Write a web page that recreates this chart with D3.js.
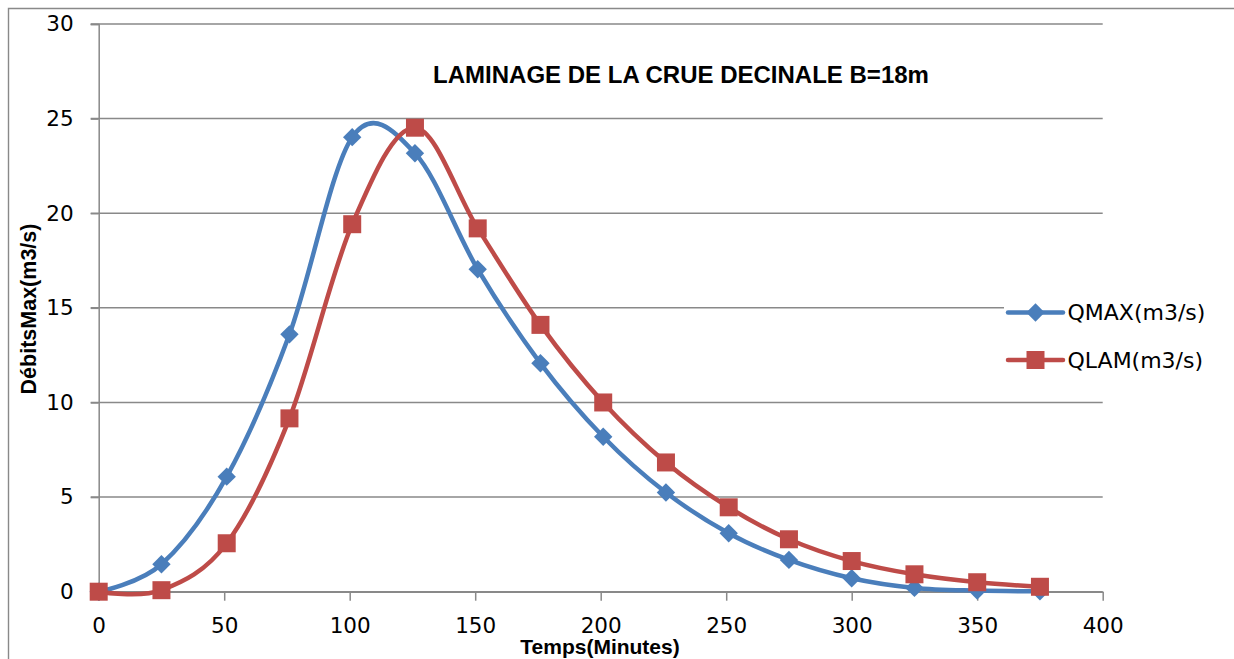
<!DOCTYPE html>
<html><head><meta charset="utf-8">
<script src="https://cdn.jsdelivr.net/npm/d3@7"></script>
<style>body{margin:0;background:#fff}svg{display:block}</style>
</head><body><svg id="c" width="1234" height="659"></svg>
<script>
const times = [0,25,51,76,101,126,151,176,201,226,251,275,300,325,350,375];
const qmax  = [0,1.45,6.08,13.6,24.02,23.17,17.04,12.07,8.19,5.24,3.09,1.68,0.71,0.2,0.06,0.02];
const qlam  = [0,0.08,2.56,9.16,19.42,24.52,19.2,14.1,10.0,6.83,4.46,2.77,1.62,0.92,0.5,0.26];
const xTicks = [0,50,100,150,200,250,300,350,400];
const yTicks = [0,5,10,15,20,25,30];
const seriesNames = ["QMAX(m3/s)","QLAM(m3/s)"];
const titleText = "LAMINAGE DE LA CRUE DECINALE B=18m";
const xTitle = "Temps(Minutes)";
const yTitle = "DébitsMax(m3/s)";

const colors = ["#4A7EBB","#BE4B48"];
const svg = d3.select("#c");
const L = 98.7, R = 1102.7, T = 24, B = 591.7;
const x = d3.scaleLinear().domain([0,400]).range([L,R]);
const y = d3.scaleLinear().domain([0,30]).range([B,T]);
const gridCol = "#898989";

// outer frame
svg.append("path").attr("d","M8.5,659V8.5H1234").attr("fill","none").attr("stroke",gridCol).attr("stroke-width",1.4);

// gridlines
svg.append("g").selectAll("line").data(yTicks).join("line")
  .attr("x1",L-8).attr("x2",R).attr("y1",d=>y(d)).attr("y2",d=>y(d))
  .attr("stroke",gridCol).attr("stroke-width",1.5);

// y axis
const gy = svg.append("g").attr("transform",`translate(${L},0)`)
  .call(d3.axisLeft(y).tickValues(yTicks).tickSize(8).tickPadding(17).tickFormat(d3.format("d")));
gy.select(".domain").attr("stroke",gridCol).attr("stroke-width",1.5);
gy.selectAll(".tick line").attr("stroke",gridCol).attr("stroke-width",1.5);
gy.selectAll("text").attr("font-family","DejaVu Sans").attr("font-size",21.5).attr("fill","#000");

// x axis
const gx = svg.append("g").attr("transform",`translate(0,${B})`)
  .call(d3.axisBottom(x).tickValues(xTicks).tickSize(9).tickSizeOuter(0).tickFormat(d3.format("d")));
gx.select(".domain").attr("stroke",gridCol).attr("stroke-width",1.5);
gx.selectAll(".tick line").attr("stroke",gridCol).attr("stroke-width",1.5);
gx.selectAll("text").attr("y",26).attr("font-family","DejaVu Sans").attr("font-size",21.5).attr("fill","#000");

// title
svg.append("text").attr("x",(432+930)/2).attr("y",83).attr("text-anchor","middle")
  .attr("font-family","Liberation Sans").attr("font-weight","bold").attr("font-size",24)
  .text(titleText);

// axis titles
svg.append("text").attr("x",600).attr("y",654).attr("text-anchor","middle")
  .attr("font-family","Liberation Sans").attr("font-weight","bold").attr("font-size",21)
  .text(xTitle);
svg.append("text").attr("transform","translate(36,309) rotate(-90)").attr("text-anchor","middle")
  .attr("font-family","Liberation Sans").attr("font-weight","bold").attr("font-size",21.5)
  .text(yTitle);

// series
const line = d3.line().x(d=>x(d[0])).y(d=>y(d[1])).curve(d3.curveCardinal.tension(0));
const diamond = d3.symbol(d3.symbolSquare, 13*13);
const square = d3.symbol(d3.symbolSquare, 18*18);
[qmax,qlam].forEach((vals,i)=>{
  const pts = times.map((t,j)=>[t,vals[j]]);
  const g = svg.append("g");
  g.append("path").attr("d",line(pts)).attr("fill","none").attr("stroke",colors[i])
    .attr("stroke-width",4.5).attr("stroke-linejoin","round").attr("stroke-linecap","round");
  g.selectAll("path.m").data(pts).join("path").attr("class","m")
    .attr("d", i===0 ? diamond() : square())
    .attr("transform",d=>`translate(${x(d[0])},${y(d[1])})` + (i===0?" rotate(45)":""))
    .attr("fill",colors[i]);
});

// legend
const lg = svg.append("g");
lg.append("rect").attr("x",1004).attr("y",296).attr("width",215).attr("height",80).attr("fill","#fff");
const legY = [312.5, 360];
seriesNames.forEach((n,i)=>{
  lg.append("line").attr("x1",1008).attr("x2",1063).attr("y1",legY[i]).attr("y2",legY[i])
    .attr("stroke",colors[i]).attr("stroke-width",4.5).attr("stroke-linecap","round");
  lg.append("path").attr("d", i===0 ? diamond() : square())
    .attr("transform",`translate(1035.5,${legY[i]})` + (i===0?" rotate(45)":""))
    .attr("fill",colors[i]);
  lg.append("text").attr("x",1067.5).attr("y",legY[i]).attr("dy","0.36em")
    .attr("font-family","DejaVu Sans").attr("font-size",22).attr("fill","#000").text(n);
});
</script></body></html>
